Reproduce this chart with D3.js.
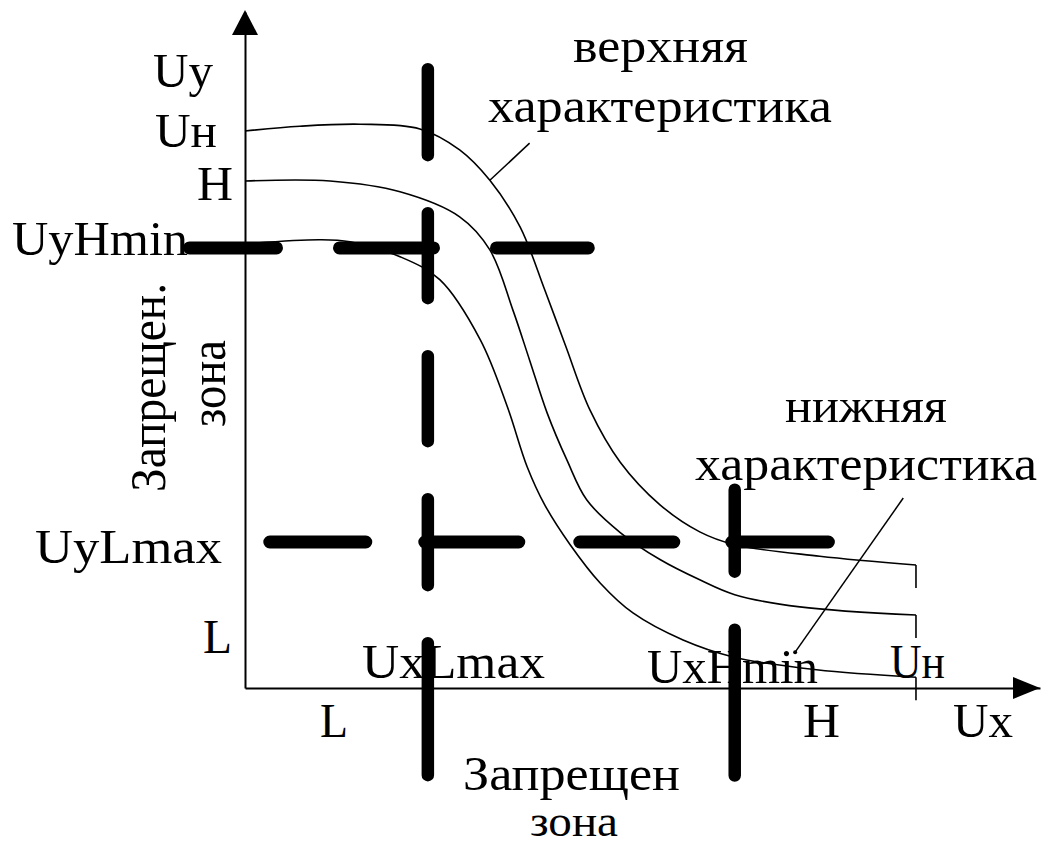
<!DOCTYPE html>
<html>
<head>
<meta charset="utf-8">
<script src="https://cdnjs.cloudflare.com/ajax/libs/d3/7.8.5/d3.min.js"></script>
<style>
  body { margin: 0; background: #fff; }
  svg text { font-family: "Liberation Serif", "Times New Roman", serif; fill: #000; }
</style>
</head>
<body>
<div id="chart"></div>
<script>
// chart units: x 0..100 (Ux), y 0..100 (Uy)
var upperCurve = [[0, 82.4], [6.9, 83.1], [14.5, 83.4], [22.0, 82.7], [27.0, 79.6], [30.8, 75.1],
  [34.6, 68.2], [37.7, 58.9], [40.3, 50.7], [43.4, 41.1], [47.2, 33.4], [52.2, 27.1],
  [57.2, 23.1], [61.6, 21.2], [72.3, 19.5], [84.4, 18.2]];
var middleCurve = [[0, 75.0], [10.7, 75.0], [19.5, 73.4], [27.0, 69.7], [30.8, 64.8], [33.7, 55.9],
  [35.8, 48.5], [38.0, 40.7], [40.5, 33.7], [43.0, 27.8], [47.2, 23.0], [52.2, 19.0],
  [57.2, 16.0], [61.6, 13.8], [69.8, 12.0], [84.4, 10.8]];
var lowerCurve = [[0, 65.7], [9.4, 66.3], [13.2, 66.0], [19.5, 63.8], [24.5, 60.4], [29.6, 51.5],
  [33.0, 41.6], [35.5, 32.7], [37.7, 27.1], [40.9, 21.2], [44.7, 15.5], [48.8, 11.1],
  [55.1, 7.1], [61.4, 4.6], [71.9, 2.7], [84.4, 1.6]];

// forbidden zone borders
var xThresholds = [23.0, 61.6];   // UxLmax, UxHmin
var yThresholds = [65.1, 21.6];   // UyHmin, UyLmax
var xThresholdSpan = [[92.5, -13.9], [30.3, -13.9]];
var yThresholdSpan = [[-7.8, 44.0], [2.3, 74.2]];

// leader lines for the captions
var leaders = [[[30.8, 75.1], [35.8, 80.6]], [[69.2, 5.3], [82.8, 28.1]]];

var yTickLabels = ["Uy", "Uн", "H", "UyHmin", "UyLmax", "L"];
var xTickLabels = ["L", "UxLmax", "UxHmin", "H", "Uн", "Ux"];
var notes = ["верхняя", "характеристика", "нижняя", "характеристика", "Запрещен", "зона"];
var sideNote = ["Запрещен.", "зона"];

var W = 1045, H = 848;
var svg = d3.select("#chart").append("svg")
  .attr("width", W).attr("height", H)
  .style("background", "#fff");

var x = d3.scaleLinear().domain([0, 100]).range([245, 1040]);
var y = d3.scaleLinear().domain([0, 100]).range([688, 12]);

// axes without ticks, arrows at the ends
svg.append("g")
  .attr("transform", "translate(0," + y(0) + ")")
  .call(d3.axisBottom(x).tickValues([]).tickSizeOuter(0))
  .select(".domain").attr("stroke", "#000").attr("stroke-width", 2);
svg.append("g")
  .attr("transform", "translate(" + x(0) + ",0)")
  .call(d3.axisLeft(y).tickValues([]).tickSizeOuter(0))
  .select(".domain").attr("stroke", "#000").attr("stroke-width", 2);

svg.append("path")
  .attr("d", "M" + x(100) + "," + y(0) + "L" + (x(100) - 27) + "," + (y(0) - 11) + "L" + (x(100) - 27) + "," + (y(0) + 11) + "Z")
  .attr("fill", "#000");
svg.append("path")
  .attr("d", "M" + x(0) + "," + (y(100) - 2) + "L" + (x(0) - 13) + "," + (y(100) + 23) + "L" + (x(0) + 13) + "," + (y(100) + 23) + "Z")
  .attr("fill", "#000");

// characteristics
var line = d3.line()
  .x(function(d) { return x(d[0]); })
  .y(function(d) { return y(d[1]); })
  .curve(d3.curveCatmullRom.alpha(0.5));

svg.selectAll(".curve")
  .data([upperCurve, middleCurve, lowerCurve])
  .enter()
  .append("path")
  .attr("class", "curve")
  .attr("d", line)
  .attr("fill", "none")
  .attr("stroke", "#000")
  .attr("stroke-width", 1.6);

// small drops at Uн
svg.selectAll(".drop")
  .data([upperCurve, middleCurve, lowerCurve])
  .enter()
  .append("line")
  .attr("x1", function(d) { return x(d[d.length - 1][0]); })
  .attr("x2", function(d) { return x(d[d.length - 1][0]); })
  .attr("y1", function(d) { return y(d[d.length - 1][1]); })
  .attr("y2", function(d) { return y(d[d.length - 1][1]) + 23; })
  .attr("stroke", "#000")
  .attr("stroke-width", 1.6);

// leaders
svg.selectAll(".leader")
  .data(leaders)
  .enter()
  .append("path")
  .attr("d", d3.line().x(function(d) { return x(d[0]); }).y(function(d) { return y(d[1]); }))
  .attr("stroke", "#000")
  .attr("stroke-width", 1.5);
svg.append("circle")
  .attr("cx", x(leaders[1][0][0])).attr("cy", y(leaders[1][0][1]))
  .attr("r", 2).attr("fill", "#000");

// labels: [x, baseline, length, size]
var labelPos = {
  y: [[153, 87, 60, 48], [155, 147, 62, 48], [197, 200, 36, 48], [12, 255, 176, 48], [35, 563, 187, 48], [203, 653, 29, 48]],
  x: [[320, 737, 28, 48], [362, 678, 183, 48], [647, 683, 171, 48], [803, 737, 37, 48], [890, 678, 55, 48], [953, 737, 60, 48]],
  notes: [[573, 62, 175, 48], [488, 122, 344, 48], [785, 422, 162, 48], [695, 480, 342, 48], [463, 790, 217, 48], [530, 836, 88, 44]]
};

function addLabels(texts, pos) {
  texts.forEach(function(t, i) {
    svg.append("text")
      .attr("x", pos[i][0]).attr("y", pos[i][1])
      .attr("font-size", pos[i][3])
      .attr("textLength", pos[i][2])
      .attr("lengthAdjust", "spacingAndGlyphs")
      .text(t);
  });
}
addLabels(yTickLabels, labelPos.y);
addLabels(xTickLabels, labelPos.x);
addLabels(notes, labelPos.notes);

// rotated label at the y axis
var sidePos = [[165, 492, 209], [225, 427, 87]];
sideNote.forEach(function(t, i) {
  svg.append("text")
    .attr("transform", "translate(" + sidePos[i][0] + "," + sidePos[i][1] + ") rotate(-90)")
    .attr("font-size", 50)
    .attr("textLength", sidePos[i][2])
    .attr("lengthAdjust", "spacingAndGlyphs")
    .text(t);
});

// thick dashed borders of the forbidden zones
var dashX = ["86 58 85 58 85 58 86 58 132", "82 58 146"];
var dashY = ["87 63 94 63 92", "96 59 94 61 94 58 97"];
var capPx = 6.5;

xThresholds.forEach(function(v, i) {
  svg.append("line")
    .attr("x1", x(v)).attr("x2", x(v))
    .attr("y1", y(xThresholdSpan[i][0]) + capPx)
    .attr("y2", y(xThresholdSpan[i][1]) - capPx)
    .attr("stroke", "#000")
    .attr("stroke-width", 12.5)
    .attr("stroke-linecap", "round")
    .attr("stroke-dasharray", dashX[i]);
});
yThresholds.forEach(function(v, i) {
  svg.append("line")
    .attr("y1", y(v)).attr("y2", y(v))
    .attr("x1", x(yThresholdSpan[i][0]) + capPx)
    .attr("x2", x(yThresholdSpan[i][1]) - capPx)
    .attr("stroke", "#000")
    .attr("stroke-width", 13)
    .attr("stroke-linecap", "round")
    .attr("stroke-dasharray", dashY[i]);
});
</script>
</body>
</html>
